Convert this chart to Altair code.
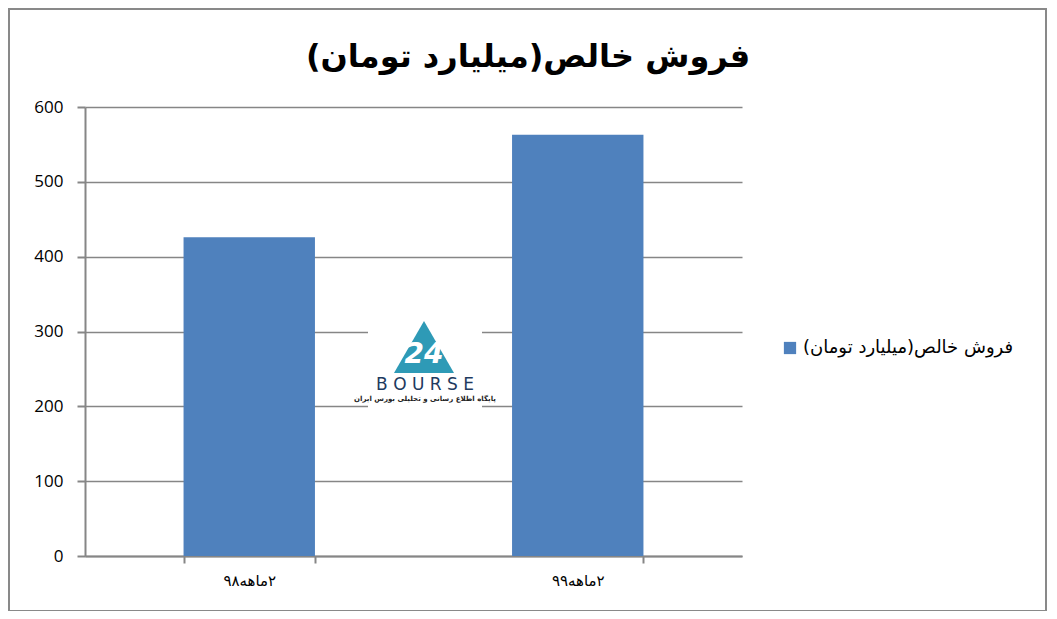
import altair as alt
import pandas as pd

categories = ["۲ماهه۹۸", "۲ماهه۹۹"]
values = [426, 563]
series_name = "فروش خالص(میلیارد تومان)"
title_text = "فروش خالص(میلیارد تومان)"
y_ticks = [0, 100, 200, 300, 400, 500, 600]

RLE, PDF = "\u202B", "\u202C"

df = pd.DataFrame({"period": categories, "value": values, "series": [series_name] * len(categories)})
one = pd.DataFrame({"a": [0]})

GRAY = "#868686"
BLUE = "#4F81BD"
rtl_expr = "'" + RLE + "' + datum.label + '" + PDF + "'"

bars = alt.Chart(df).mark_bar(color=BLUE).encode(
    x=alt.X("period:N", sort=categories, title=None,
            scale=alt.Scale(paddingInner=0.6, paddingOuter=0.3),
            axis=alt.Axis(labelAngle=0, labelFontSize=15, labelFont="DejaVu Sans", labelColor="#000",
                          labelExpr=rtl_expr,
                          tickBand="extent", tickSize=7, tickColor=GRAY, tickWidth=2,
                          domainColor=GRAY, domainWidth=2, labelPadding=10, grid=False)),
    y=alt.Y("value:Q", title=None,
            scale=alt.Scale(domain=[0, 600], nice=False),
            axis=alt.Axis(values=y_ticks, labelFontSize=17, labelFont="Open Sans", labelColor="#000",
                          tickSize=8, tickColor=GRAY, tickWidth=2, domainColor=GRAY, domainWidth=2,
                          gridColor=GRAY, gridWidth=1.5, labelPadding=14)),
    color=alt.Color("series:N", scale=alt.Scale(domain=[series_name], range=[BLUE]),
                    legend=alt.Legend(title=None, orient="none", legendX=696, legendY=232,
                                      symbolType="square", symbolSize=150, symbolStrokeWidth=0,
                                      labelFontSize=18, labelFont="DejaVu Sans", labelColor="#000",
                                      labelExpr=rtl_expr, labelLimit=400,
                                      labelOffset=4)),
)

# chart title as text
title = alt.Chart(one).mark_text(text=RLE + title_text + PDF, font="DejaVu Sans", fontSize=32,
                                 fontWeight="bold", color="#000", align="center", baseline="middle").encode(
    x=alt.value(443), y=alt.value(-50))

# outer border
border = alt.Chart(one).mark_rect(fill=None, stroke="#898989", strokeWidth=2).encode(
    x=alt.value(-76), x2=alt.value(961), y=alt.value(-98), y2=alt.value(504))

# watermark logo
logo_bg = alt.Chart(one).mark_rect(fill="white").encode(
    x=alt.value(283), x2=alt.value(397), y=alt.value(189), y2=alt.value(308))
logo_tri = alt.Chart(one).mark_point(shape="triangle-up", filled=True, color="#2E9AB6", size=3600, opacity=1).encode(
    x=alt.value(339), y=alt.value(240))
logo_num = alt.Chart(one).mark_text(text="24", font="DejaVu Sans", fontSize=28, fontWeight="bold",
                                    color="white", fontStyle="italic").encode(x=alt.value(339), y=alt.value(248))
logo_word = alt.Chart(one).mark_text(text="B O U R S E", font="DejaVu Sans", fontSize=17,
                                     color="#1E3A5F").encode(x=alt.value(340), y=alt.value(278))
logo_sub = alt.Chart(one).mark_text(text=RLE + "پایگاه اطلاع رسانی و تحلیلی بورس ایران" + PDF, font="DejaVu Sans",
                                    fontSize=7, fontWeight="bold", color="#222").encode(x=alt.value(340), y=alt.value(292))

chart = alt.layer(border, title, bars, logo_bg, logo_tri, logo_num, logo_word, logo_sub).properties(
    width=657, height=449,
    autosize=alt.AutoSizeParams(type="none"),
    padding={"left": 77, "top": 99, "right": 306, "bottom": 55},
).configure_view(stroke=None)

chart.save("out.html", embed_options={"renderer": "svg", "actions": False})
